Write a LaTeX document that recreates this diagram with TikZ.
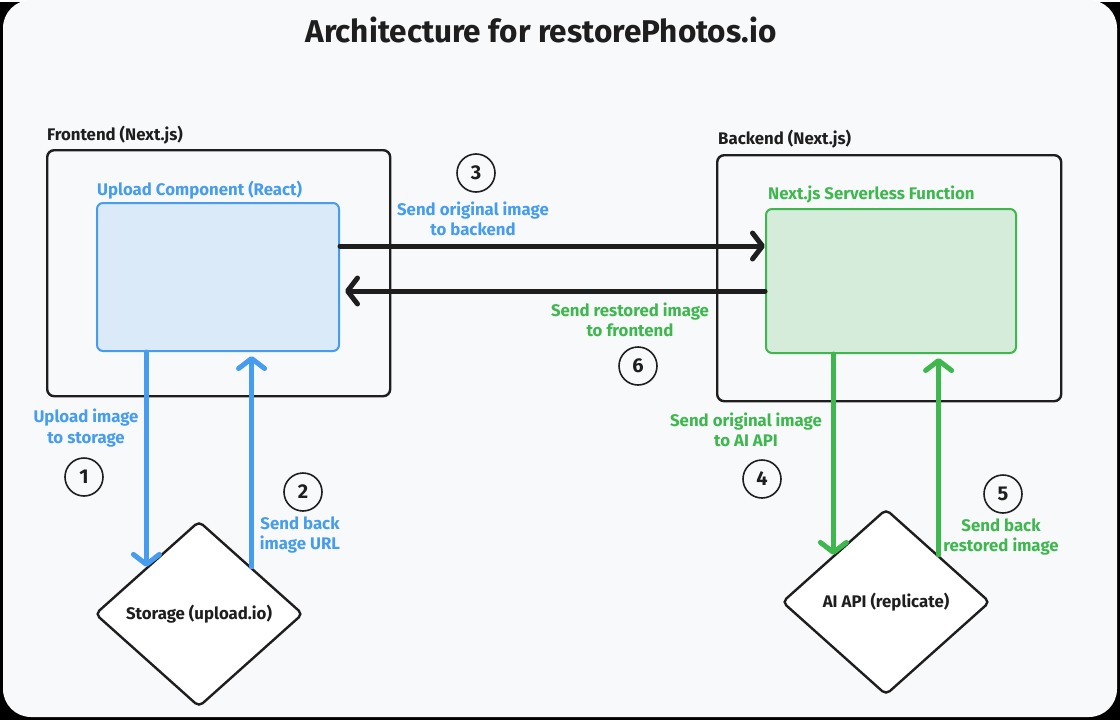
\documentclass[tikz,border=0pt]{standalone}
\usepackage{fontspec}
\setmainfont{Fira Sans}
\usetikzlibrary{shapes.geometric,arrows.meta,calc}
\definecolor{bg}{RGB}{248,249,251}
\definecolor{ublue}{RGB}{70,156,238}
\definecolor{ufill}{RGB}{219,234,249}
\definecolor{ugreen}{RGB}{62,184,78}
\definecolor{gfill}{RGB}{214,236,219}
\definecolor{ink}{RGB}{30,30,30}
\newcommand\lblfont{\bfseries\fontsize{16.8}{20.5}\selectfont}
\begin{document}
\begin{tikzpicture}[x=1pt,y=-1pt,
  container/.style={draw=ink, line width=2.4pt, rounded corners=7pt, anchor=north west, inner sep=0pt},
  bluebox/.style={draw=ublue, fill=ufill, line width=2pt, rounded corners=6pt, anchor=north west, inner sep=0pt},
  greenbox/.style={draw=ugreen, fill=gfill, line width=2pt, rounded corners=6pt, anchor=north west, inner sep=0pt},
  grouplabel/.style={anchor=base west, inner sep=0pt, font=\lblfont},
  desc/.style={align=center, inner sep=0pt, font=\lblfont},
  numc/.style={circle, draw=ink, line width=1.6pt, minimum size=38pt, inner sep=0pt, font=\bfseries\fontsize{20}{20}\selectfont, text=ink},
  store/.style={diamond, draw=ink, fill=white, line width=2.4pt, rounded corners=5pt, minimum width=208pt, minimum height=186pt, inner sep=0pt, font=\lblfont, text=ink},
  flow/.style={line width=5pt, line cap=round, line join=round, -{Straight Barb[length=10pt,width=26pt,line cap=round,line join=round]}}
]
\fill[black] (0,0) rectangle (1120,718);
\fill[bg, rounded corners=28pt] (3,-2) rectangle (1117,715);
\useasboundingbox (0,0) rectangle (1120,718);

% title
\node[font=\bfseries\fontsize{31.5}{33}\selectfont, text=ink, anchor=base] (title) at (541,40) {Architecture for restorePhotos.io};

% containers
\node[container, minimum width=343pt, minimum height=246pt] (fe) at (46,147) {};
\node[grouplabel, text=ink] (felbl) at (47,138) {Frontend (Next.js)};
\node[container, minimum width=344pt, minimum height=246pt] (be) at (716,152) {};
\node[grouplabel, text=ink] (belbl) at (718,142) {Backend (Next.js)};

% inner components
\node[bluebox, minimum width=242pt, minimum height=148pt] (up) at (96,200) {};
\node[grouplabel, text=ublue] (uplbl) at (97,193) {Upload Component (React)};
\node[greenbox, minimum width=250pt, minimum height=144pt] (fn) at (765,206) {};
\node[grouplabel, text=ugreen] (fnlbl) at (768,197) {Next.js Serverless Function};

% diamonds
\node[store] (storage) at (199,612) {Storage (upload.io)};
\node[store] (ai) at (886,600) {AI API (replicate)};

% arrows between frontend and backend
\draw[flow, draw=ink] ([yshift=31pt]up.east) -- ([yshift=31pt]up.east -| fn.west);
\draw[flow, draw=ink, shorten >=5pt] ([yshift=-14pt]up.east -| fn.west) -- ([yshift=-14pt]up.east);

% storage arrows
\draw[flow, draw=ublue] (up.south -| storage.north west) -- (storage.north west);
\draw[flow, draw=ublue, shorten >=4pt] (storage.north east) -- (up.south -| storage.north east);

% AI arrows
\draw[flow, draw=ugreen] (fn.south -| ai.north west) -- (ai.north west);
\draw[flow, draw=ugreen, shorten >=4pt] (ai.north east) -- (fn.south -| ai.north east);

% labels
\node[desc, text=ublue] (l3) at (473,217) {Send original image\\to backend};
\node[desc, text=ugreen] (l6) at (630,318) {Send restored image\\to frontend};
\node[desc, text=ublue] (l1) at (86,426) {Upload image\\to storage};
\node[desc, text=ublue] (l2) at (300,533) {Send back\\image URL};
\node[desc, text=ugreen] (l4) at (746,428) {Send original image\\to AI API};
\node[desc, text=ugreen] (l5) at (1001,535) {Send back\\restored image};

% step numbers
\node[numc] (n3) at (476,171) {3};
\node[numc] (n6) at (638,364) {6};
\node[numc] (n1) at (84,475) {1};
\node[numc] (n2) at (303,490) {2};
\node[numc] (n4) at (762,477) {4};
\node[numc] (n5) at (1003,492) {5};
\end{tikzpicture}
\end{document}
